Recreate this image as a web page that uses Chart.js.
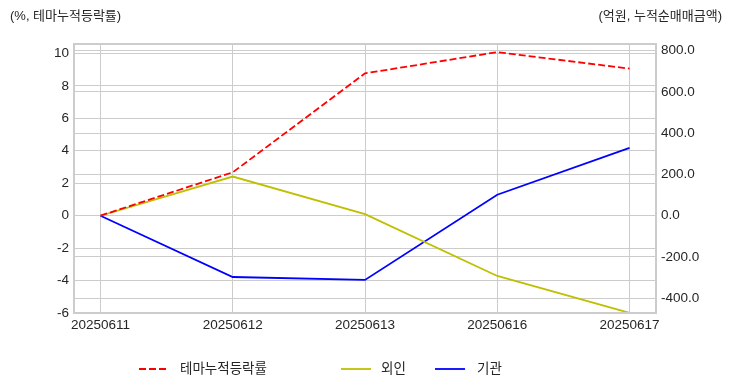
<!DOCTYPE html>
<html>
<head>
<meta charset="utf-8">
<script src="https://cdn.jsdelivr.net/npm/chart.js@4.4.1/dist/chart.umd.min.js"></script>
<style>
  html, body { margin: 0; padding: 0; background: #fff; }
  #wrap { width: 732px; height: 392px; }
</style>
</head>
<body>
<div id="wrap"><canvas id="chart" width="732" height="392"></canvas></div>
<script>
// chart values
const dates = ["20250611", "20250612", "20250613", "20250616", "20250617"];
const themeRate = [0, 2.67, 8.77, 10.08, 9.06];       // %, left axis
const foreign = [0, 190, 8, -292, -471];              // 억원, right axis
const institution = [0, -297, -311, 102, 329];        // 억원, right axis
const leftTicks = [-6, -4, -2, 0, 2, 4, 6, 8, 10];
const rightTicks = [-400, -200, 0, 200, 400, 600, 800];

const FONT = "'Liberation Sans', 'Noto Sans CJK KR', sans-serif";
const TEXT = "#262626";
const GRID = "#cccccc";
const SIZE = 13.5;

const toPoints = arr => arr.map((v, i) => ({ x: i, y: v }));

// titles, custom legend and frame box
const decorations = {
  id: "decorations",
  afterDraw(chart) {
    const c = chart.ctx;
    const area = chart.chartArea;
    c.save();
    c.strokeStyle = GRID;
    c.lineWidth = 2;
    c.strokeRect(area.left, area.top, area.right - area.left, area.bottom - area.top);

    c.fillStyle = TEXT;
    c.font = "13px " + FONT;
    c.textBaseline = "middle";
    c.textAlign = "left";
    c.fillText("(%, 테마누적등락률)", 10, 16);
    c.textAlign = "right";
    c.fillText("(억원, 누적순매매금액)", 722, 16);

    const items = [
      { label: "테마누적등락률", color: "#ff0000", dash: [7, 3], x0: 139, x1: 167, tx: 180 },
      { label: "외인", color: "#bfbf00", dash: [], x0: 341, x1: 371, tx: 381 },
      { label: "기관", color: "#0000ff", dash: [], x0: 435, x1: 465, tx: 477 }
    ];
    const ly = 369;
    c.font = SIZE + "px " + FONT;
    items.forEach(it => {
      c.beginPath();
      c.setLineDash(it.dash);
      c.strokeStyle = it.color;
      c.lineWidth = 1.8;
      c.moveTo(it.x0, ly);
      c.lineTo(it.x1, ly);
      c.stroke();
      c.setLineDash([]);
      c.textAlign = "left";
      c.fillStyle = TEXT;
      c.fillText(it.label, it.tx, ly);
    });
    c.restore();
  }
};

new Chart(document.getElementById("chart"), {
  type: "line",
  data: {
    datasets: [
      {
        label: "테마누적등락률",
        data: toPoints(themeRate),
        yAxisID: "y",
        borderColor: "#ff0000",
        borderDash: [7, 3],
        borderWidth: 1.8,
        pointRadius: 0,
        tension: 0,
        clip: false
      },
      {
        label: "외인",
        data: toPoints(foreign),
        yAxisID: "y1",
        borderColor: "#bfbf00",
        borderWidth: 1.8,
        pointRadius: 0,
        tension: 0,
        clip: false
      },
      {
        label: "기관",
        data: toPoints(institution),
        yAxisID: "y1",
        borderColor: "#0000ff",
        borderWidth: 1.8,
        pointRadius: 0,
        tension: 0,
        clip: false
      }
    ]
  },
  options: {
    responsive: false,
    animation: false,
    devicePixelRatio: 1,
    layout: { padding: { top: 44, left: 0, right: 0, bottom: 0 } },
    plugins: {
      legend: { display: false },
      tooltip: { enabled: false }
    },
    scales: {
      x: {
        type: "linear",
        min: -0.2,
        max: 4.2,
        afterBuildTicks: s => { s.ticks = dates.map((d, i) => ({ value: i })); },
        afterFit: s => { s.height = 79; },
        grid: { color: GRID, lineWidth: 1, drawTicks: false },
        border: { display: false },
        ticks: {
          padding: 4,
          maxRotation: 0,
          autoSkip: false,
          color: TEXT,
          font: { family: FONT, size: SIZE },
          callback: v => dates[Math.round(v)]
        }
      },
      y: {
        position: "left",
        min: -6,
        max: 10.58,
        afterBuildTicks: s => { s.ticks = leftTicks.map(v => ({ value: v })); },
        afterFit: s => { s.width = 74; },
        grid: { color: GRID, lineWidth: 1, drawTicks: false },
        border: { display: false },
        ticks: {
          padding: 5,
          color: TEXT,
          font: { family: FONT, size: SIZE },
          callback: v => String(v)
        }
      },
      y1: {
        position: "right",
        min: -471.5,
        max: 832.6,
        afterBuildTicks: s => { s.ticks = rightTicks.map(v => ({ value: v })); },
        afterFit: s => { s.width = 76; },
        grid: { color: GRID, lineWidth: 1, drawTicks: false },
        border: { display: false },
        ticks: {
          padding: 5,
          color: TEXT,
          font: { family: FONT, size: SIZE },
          callback: v => v.toFixed(1)
        }
      }
    }
  },
  plugins: [decorations]
});
</script>
</body>
</html>
